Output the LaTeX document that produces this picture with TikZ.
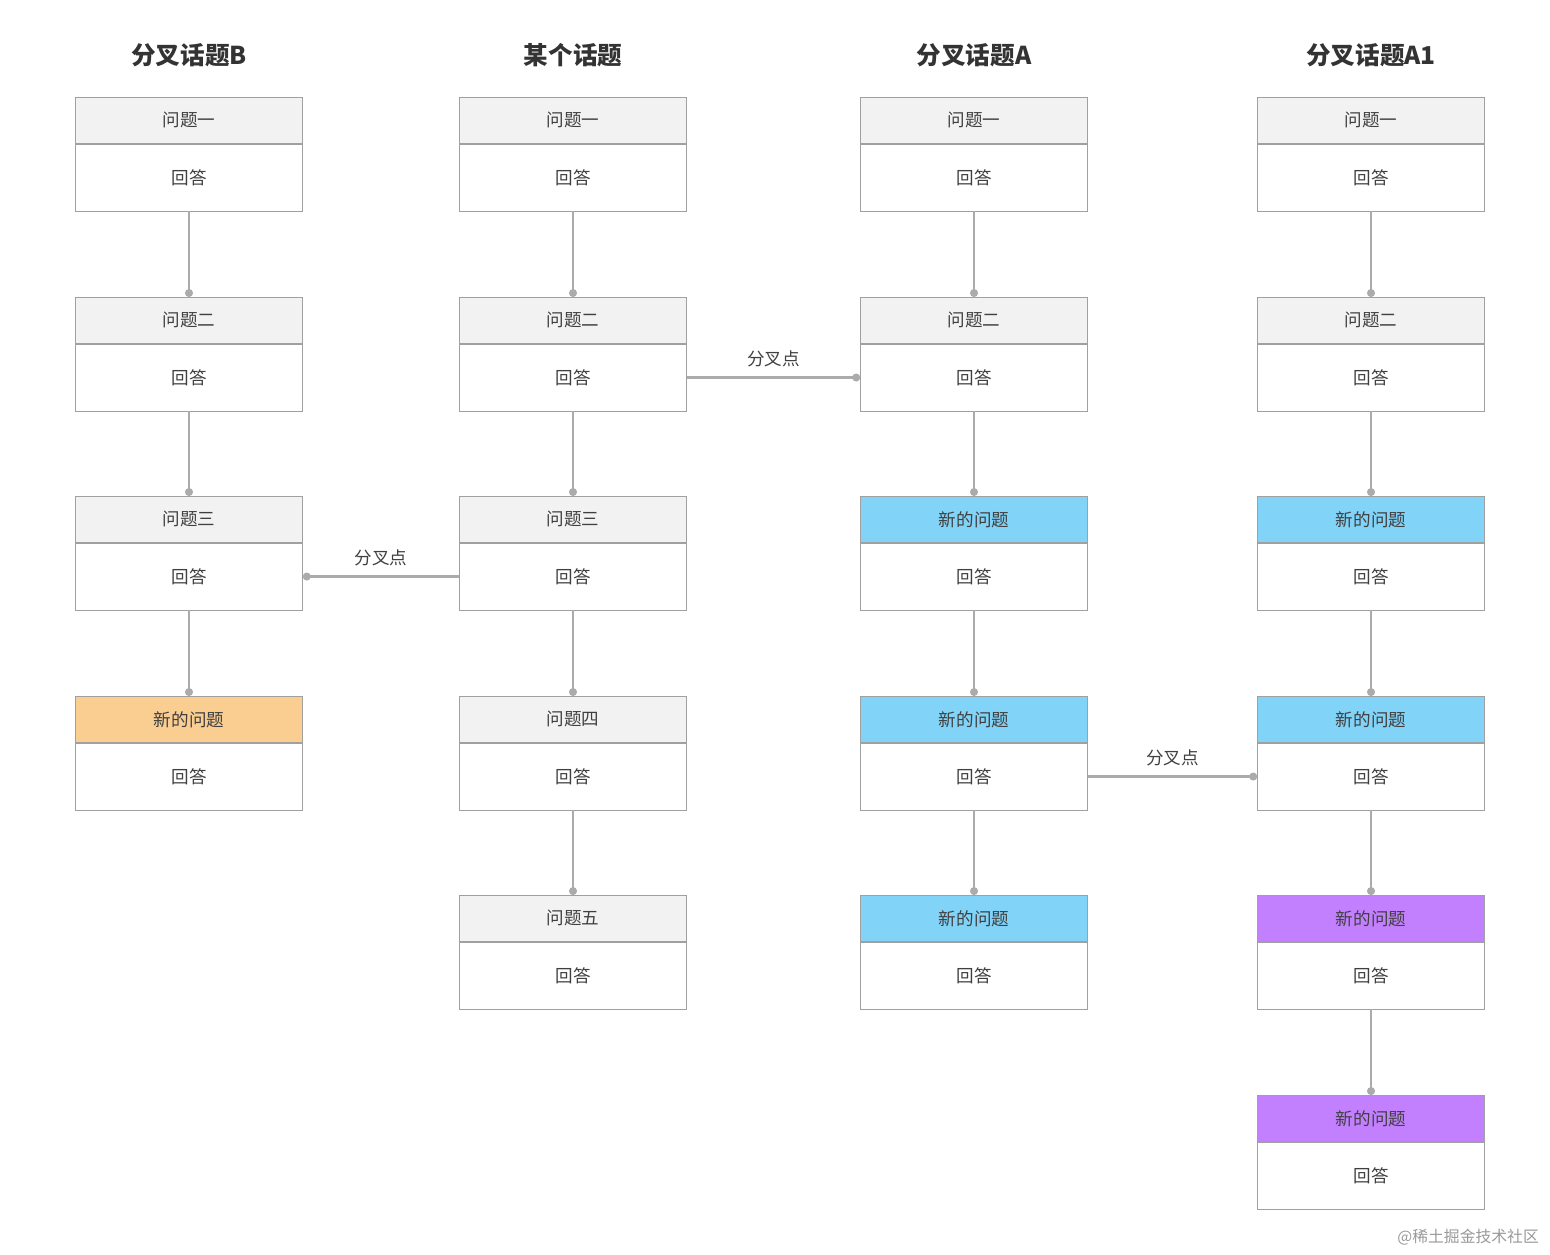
\documentclass[tikz,border=0pt]{standalone}
\usepackage{fontspec}
\setmainfont{Noto Sans CJK SC}
\usetikzlibrary{arrows.meta}

\definecolor{hdgray}{HTML}{F2F2F2}
\definecolor{hdblue}{HTML}{81D3F8}
\definecolor{hdorange}{HTML}{FACD91}
\definecolor{hdpurple}{HTML}{C280FF}
\definecolor{edgegray}{HTML}{A0A0A0}
\definecolor{linkgray}{HTML}{ABABAB}

\tikzset{
  head/.style={draw=edgegray,minimum width=4.54cm,minimum height=0.92cm,anchor=north,inner sep=0pt,font=\fontsize{10}{12}\selectfont,text=black!75},
  body/.style={draw=edgegray,fill=white,minimum width=4.54cm,minimum height=1.34cm,anchor=north,inner sep=0pt,font=\fontsize{10}{12}\selectfont,text=black!75},
  link/.style={draw=linkgray,line width=1.2pt,-{Circle[length=4.5pt]}},
  title/.style={font=\fontsize{14}{16}\selectfont\bfseries,text=black!80},
  fork/.style={font=\fontsize{10}{12}\selectfont,text=black!75}
}

% question box: header (name-h) over answer (name)
\newcommand{\qbox}[5]{%
  \node[head,fill=#4] (#1-h) at (#2,#3) {#5};
  \node[body] (#1) at (#1-h.south) {回答};
}

\begin{document}
\begin{tikzpicture}[x=0.02cm,y=-0.02cm]
\useasboundingbox (0,0) rectangle (1550,1254);

\node[title] (tb) at (189,55) {分叉话题B};
\node[title] (tm) at (573,55) {某个话题};
\node[title] (ta) at (974,55) {分叉话题A};
\node[title] (ta1) at (1371,55) {分叉话题A1};

% column B
\qbox{b1}{189}{97}{hdgray}{问题一}
\qbox{b2}{189}{297}{hdgray}{问题二}
\qbox{b3}{189}{496}{hdgray}{问题三}
\qbox{b4}{189}{696}{hdorange}{新的问题}

% main topic
\qbox{m1}{573}{97}{hdgray}{问题一}
\qbox{m2}{573}{297}{hdgray}{问题二}
\qbox{m3}{573}{496}{hdgray}{问题三}
\qbox{m4}{573}{696}{hdgray}{问题四}
\qbox{m5}{573}{895}{hdgray}{问题五}

% column A
\qbox{a1}{974}{97}{hdgray}{问题一}
\qbox{a2}{974}{297}{hdgray}{问题二}
\qbox{a3}{974}{496}{hdblue}{新的问题}
\qbox{a4}{974}{696}{hdblue}{新的问题}
\qbox{a5}{974}{895}{hdblue}{新的问题}

% column A1
\qbox{c1}{1371}{97}{hdgray}{问题一}
\qbox{c2}{1371}{297}{hdgray}{问题二}
\qbox{c3}{1371}{496}{hdblue}{新的问题}
\qbox{c4}{1371}{696}{hdblue}{新的问题}
\qbox{c5}{1371}{895}{hdpurple}{新的问题}
\qbox{c6}{1371}{1095}{hdpurple}{新的问题}

\draw[link] (b1.south) -- (b2-h.north);
\draw[link] (b2.south) -- (b3-h.north);
\draw[link] (b3.south) -- (b4-h.north);

\draw[link] (m1.south) -- (m2-h.north);
\draw[link] (m2.south) -- (m3-h.north);
\draw[link] (m3.south) -- (m4-h.north);
\draw[link] (m4.south) -- (m5-h.north);

\draw[link] (a1.south) -- (a2-h.north);
\draw[link] (a2.south) -- (a3-h.north);
\draw[link] (a3.south) -- (a4-h.north);
\draw[link] (a4.south) -- (a5-h.north);

\draw[link] (c1.south) -- (c2-h.north);
\draw[link] (c2.south) -- (c3-h.north);
\draw[link] (c3.south) -- (c4-h.north);
\draw[link] (c4.south) -- (c5-h.north);
\draw[link] (c5.south) -- (c6-h.north);

% fork points
\draw[link] (m2.east) -- node[fork,above=2pt] {分叉点} (a2.west);
\draw[link] (m3.west) -- node[fork,above=2pt] {分叉点} (b3.east);
\draw[link] (a4.east) -- node[fork,above=2pt] {分叉点} (c4.west);

\node[font=\fontsize{9}{11}\selectfont,text=black!40,anchor=east] (wm) at (1545,1237) {@稀土掘金技术社区};
\end{tikzpicture}
\end{document}
